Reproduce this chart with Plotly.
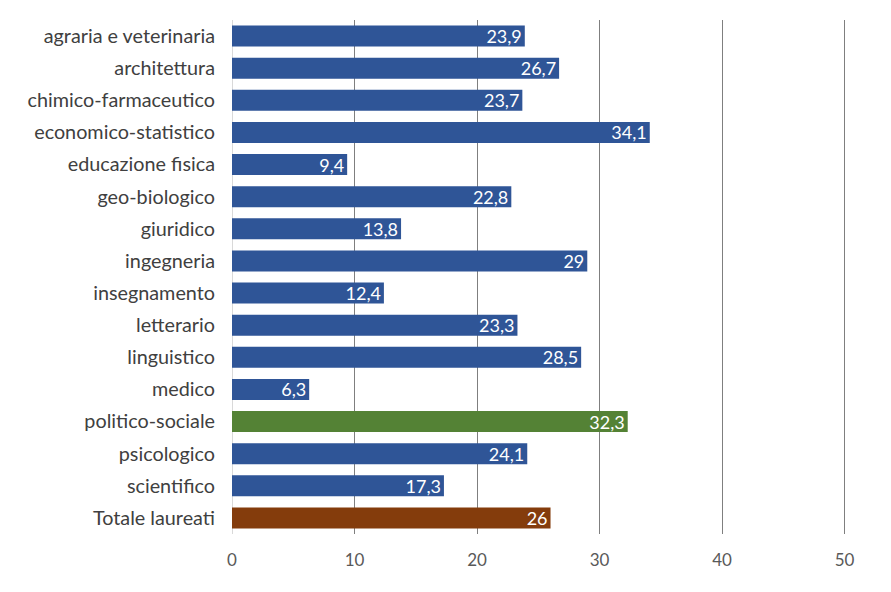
import plotly.graph_objects as go

categories = ["agraria e veterinaria", "architettura", "chimico-farmaceutico",
              "economico-statistico", "educazione fisica", "geo-biologico",
              "giuridico", "ingegneria", "insegnamento", "letterario",
              "linguistico", "medico", "politico-sociale", "psicologico",
              "scientifico", "Totale laureati"]
values = [23.9, 26.7, 23.7, 34.1, 9.4, 22.8, 13.8, 29, 12.4, 23.3, 28.5, 6.3, 32.3, 24.1, 17.3, 26]
labels = ["23,9", "26,7", "23,7", "34,1", "9,4", "22,8", "13,8", "29", "12,4", "23,3",
          "28,5", "6,3", "32,3", "24,1", "17,3", "26"]

BLUE = "#2F5597"
GREEN = "#548235"
BROWN = "#843C0C"
colors = [BLUE] * len(categories)
colors[categories.index("politico-sociale")] = GREEN
colors[categories.index("Totale laureati")] = BROWN

font_family = "Lato, 'Open Sans', sans-serif"

fig = go.Figure(go.Bar(
    y=categories, x=values, orientation="h",
    marker=dict(color=colors, line=dict(width=0)),
    text=labels, textposition="inside", insidetextanchor="end",
    textangle=0, constraintext="none",
    insidetextfont=dict(color="white", size=18, family=font_family),
    cliponaxis=False, hoverinfo="skip",
))

fig.update_layout(
    width=891, height=592,
    margin=dict(l=224, r=52, t=12, b=66, autoexpand=False),
    paper_bgcolor="white", plot_bgcolor="white",
    bargap=0.35, showlegend=False,
    font=dict(family=font_family, color="#404040"),
    uniformtext=dict(minsize=18, mode="show"),
)
fig.update_xaxes(
    range=[0, 50.2], dtick=10, tick0=0,
    showgrid=True, gridcolor="#7f7f7f", gridwidth=1,
    zeroline=True, zerolinecolor="#d9d9d9", zerolinewidth=1,
    showline=False, ticks="", automargin=False,
    tickfont=dict(size=17, color="#595959", family=font_family),
    ticklabelstandoff=14,
)
fig.update_yaxes(
    categoryorder="array", categoryarray=categories, autorange="reversed",
    showgrid=False, zeroline=False, showline=False, ticks="", automargin=False,
    tickfont=dict(size=19.8, color="#404040", family=font_family),
    ticklabelstandoff=16,
)

fig.write_html("out.html")
